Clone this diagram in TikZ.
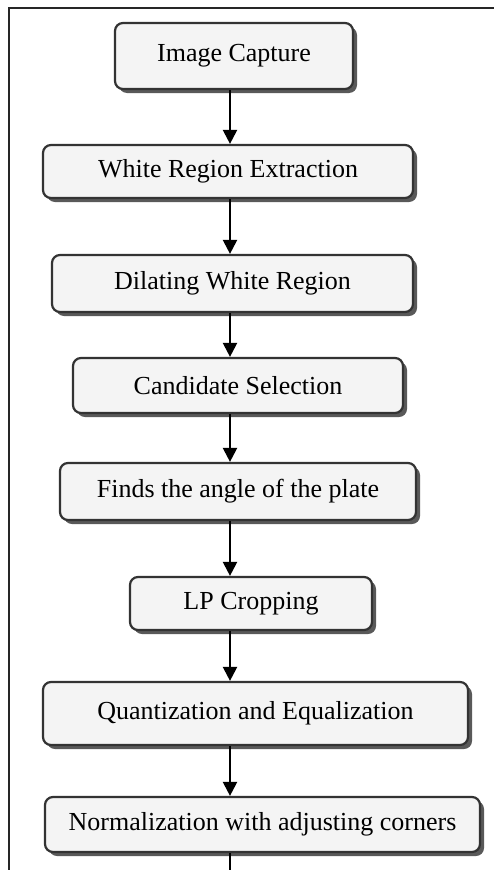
\documentclass[tikz,border=0pt]{standalone}
\usepackage{fontspec}
\setmainfont{Liberation Serif}
\usetikzlibrary{arrows.meta,shadows}

\newlength{\du}
\setlength{\du}{1pt}

\definecolor{boxfill}{rgb}{0.955, 0.955, 0.955}
\definecolor{boxline}{rgb}{0.200, 0.200, 0.200}
\definecolor{shadowgray}{rgb}{0.350, 0.350, 0.350}

\tikzset{
  stepbox/.style={draw=boxline, line width=2.2\du, fill=boxfill,
    rounded corners=8\du, inner sep=0pt, align=center,
    font=\fontsize{26}{30}\selectfont,
    drop shadow={shadow xshift=4\du, shadow yshift=-4\du, fill=shadowgray, opacity=1}},
  flow/.style={line width=2.2\du, -{Triangle[length=14pt,width=14pt]}},
  frame/.style={line width=1.5\du, black!85}
}

\begin{document}
\begin{tikzpicture}
\pgftransformyscale{-1.000000}
\useasboundingbox (0\du,0\du) rectangle (494\du,870\du);
% page frame
\draw[frame] (494\du,8\du)--(9\du,8\du)--(9\du,870\du);
\coordinate (spine) at (230\du,0\du);
\coordinate (tail) at (230\du,870\du);
% steps
\node[stepbox, minimum width=238\du, minimum height=66\du] (capture) at (234\du,56\du) {Image Capture};
\node[stepbox, minimum width=370\du, minimum height=53\du] (white) at (228\du,171.5\du) {White Region Extraction};
\node[stepbox, minimum width=361\du, minimum height=57\du] (dilate) at (232.5\du,283.5\du) {Dilating White Region};
\node[stepbox, minimum width=330\du, minimum height=55\du] (cand) at (238\du,385.5\du) {Candidate Selection};
\node[stepbox, minimum width=356\du, minimum height=57\du] (angle) at (238\du,491.5\du) {Finds the angle of the plate};
\node[stepbox, minimum width=242\du, minimum height=53\du] (crop) at (251\du,603.5\du) {LP Cropping};
\node[stepbox, minimum width=425\du, minimum height=63\du] (quant) at (255.5\du,713.5\du) {Quantization and Equalization};
\node[stepbox, minimum width=435\du, minimum height=55\du] (norm) at (262.5\du,824.5\du) {Normalization with adjusting corners};
% arrows
\draw[flow] (capture.south -| spine)--(white.north -| spine);
\draw[flow] (white.south -| spine)--(dilate.north -| spine);
\draw[flow] (dilate.south -| spine)--(cand.north -| spine);
\draw[flow] (cand.south -| spine)--(angle.north -| spine);
\draw[flow] (angle.south -| spine)--(crop.north -| spine);
\draw[flow] (crop.south -| spine)--(quant.north -| spine);
\draw[flow] (quant.south -| spine)--(norm.north -| spine);
\draw[line width=2.2\du] (norm.south -| spine)--(tail);
\end{tikzpicture}
\end{document}
